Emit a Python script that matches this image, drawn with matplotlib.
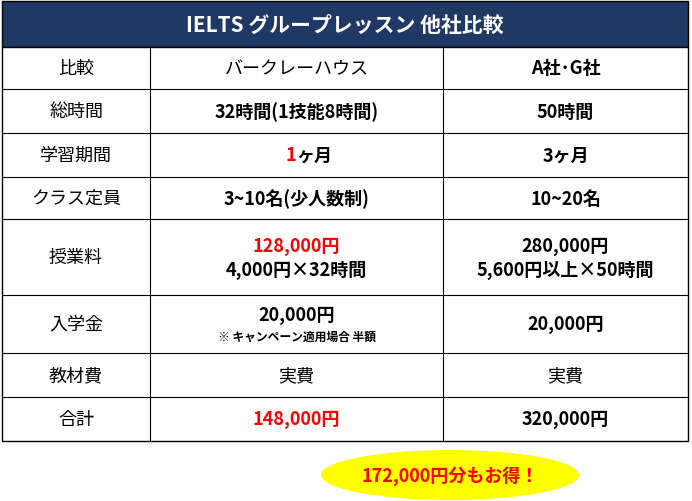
import matplotlib
matplotlib.use("Agg")
import matplotlib.pyplot as plt
from matplotlib.patches import Rectangle, Ellipse

plt.rcParams["font.family"] = "Noto Sans CJK JP"

title = "IELTS グループレッスン 他社比較"
row_labels = ["比較", "総時間", "学習期間", "クラス定員", "授業料", "入学金", "教材費", "合計"]
col_berkeley = ["バークレーハウス", "32時間(1技能8時間)", "1ヶ月", "3~10名(少人数制)",
                "128,000円\n4,000円×32時間", "20,000円", "実費", "148,000円"]
col_others = ["A社･G社", "50時間", "3ヶ月", "10~20名",
              "280,000円\n5,600円以上×50時間", "20,000円", "実費", "320,000円"]
note = "※ キャンペーン適用場合 半額"
savings = "172,000円分もお得！"

RED = "#FF0000"
NAVY = "#1F3864"
row_edges = [48, 90, 134, 178, 220, 296, 354, 398, 442]
col_edges = [2, 150, 443, 688]

fig = plt.figure(figsize=(6.92, 5.02), dpi=100)
ax = fig.add_axes([0, 0, 1, 1])
ax.set_xlim(0, 692); ax.set_ylim(502, 0); ax.axis("off")

ax.add_patch(Rectangle((2, 2), 686, row_edges[0] - 2, facecolor=NAVY, edgecolor="black", lw=1))
ax.text(345, 25, title, color="white", fontsize=15, fontweight="bold", ha="center", va="center")
ax.add_patch(Rectangle((2, row_edges[0]), 686, row_edges[-1] - row_edges[0], facecolor="white", edgecolor="black", lw=1))
for y in row_edges[1:-1]:
    ax.plot([2, 688], [y, y], color="black", lw=0.8)
for x in col_edges[1:-1]:
    ax.plot([x, x], [row_edges[0], row_edges[-1]], color="black", lw=0.8)

cx = [(col_edges[i] + col_edges[i + 1]) / 2 for i in range(3)]
fs = 13
for i, lab in enumerate(row_labels):
    yc = (row_edges[i] + row_edges[i + 1]) / 2
    ax.text(cx[0], yc, lab, fontsize=fs, ha="center", va="center")
    b = col_berkeley[i]
    o = col_others[i]
    bw = "normal" if i in (0, 6) else "bold"
    ow = "normal" if i == 6 else "bold"
    if i == 2:
        ax.text(cx[1], yc, "1", color=RED, fontsize=fs, fontweight="bold", ha="right", va="center")
        ax.text(cx[1], yc, "ヶ月", fontsize=fs, fontweight="bold", ha="left", va="center")
    elif i == 4:
        l1, l2 = b.split("\n")
        ax.text(cx[1], yc - 11, l1, color=RED, fontsize=fs, fontweight="bold", ha="center", va="center")
        ax.text(cx[1], yc + 12, l2, fontsize=fs, fontweight="bold", ha="center", va="center")
    elif i == 5:
        ax.text(cx[1], yc - 9, b, fontsize=fs, fontweight="bold", ha="center", va="center")
        ax.text(cx[1], yc + 12, note, fontsize=8.5, fontweight="bold", ha="center", va="center")
    elif i == 7:
        ax.text(cx[1], yc, b, color=RED, fontsize=fs, fontweight="bold", ha="center", va="center")
    else:
        ax.text(cx[1], yc, b, fontsize=fs, fontweight=bw, ha="center", va="center")
    if i == 4:
        l1, l2 = o.split("\n")
        ax.text(cx[2], yc - 11, l1, fontsize=fs, fontweight="bold", ha="center", va="center")
        ax.text(cx[2], yc + 12, l2, fontsize=fs, fontweight="bold", ha="center", va="center")
    else:
        ax.text(cx[2], yc, o, fontsize=fs, fontweight=ow, ha="center", va="center")

ax.add_patch(Ellipse((450, 476), 258, 50, facecolor="#FFFF00", edgecolor="none"))
ax.text(450, 476, savings, color=RED, fontsize=fs, fontweight="bold", ha="center", va="center")

fig.savefig("out.png", dpi=100)
